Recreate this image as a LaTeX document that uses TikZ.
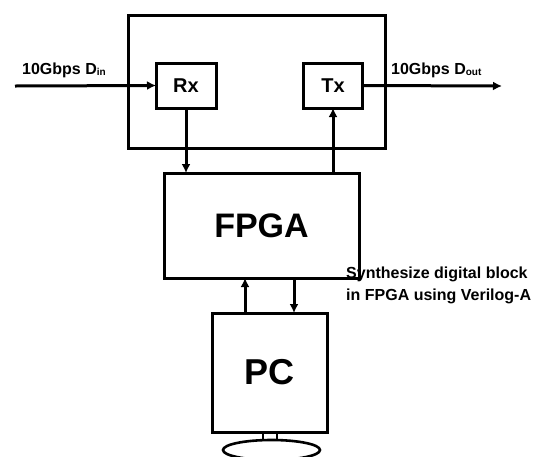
\documentclass[tikz,border=0pt]{standalone}
\usepackage{fontspec}
\setmainfont{Liberation Sans}
\usetikzlibrary{arrows.meta,positioning,shapes.geometric}

\begin{document}
\begin{tikzpicture}[
  x=1pt, y=-1pt,
  blk/.style={draw, line width=3pt, inner sep=0pt, outer sep=0pt,
              font=\bfseries},
  lbl/.style={inner sep=0pt, font=\bfseries\fontsize{16}{22}\selectfont,
              align=left},
  arr/.style={-{Latex[length=9pt,width=9pt]}, line width=3pt}
]
\useasboundingbox (0,0) rectangle (539,456);

%% Board with receiver and transmitter
\node[blk, minimum width=257pt, minimum height=133pt] (board) at (256.5,81.5) {};
\node[blk, minimum width=60pt, minimum height=45pt,
      font=\bfseries\fontsize{20}{24}\selectfont] (rx) at (186,85.5) {Rx};
\node[blk, minimum width=59pt, minimum height=45pt,
      font=\bfseries\fontsize{20}{24}\selectfont] (tx) at (333,85.5) {Tx};

%% Serial input and output
\coordinate (din)  at (15,86);
\coordinate (dout) at (502,86);
\draw[arr] (din) -- (rx.west);
\draw[arr] (tx.east) -- (dout);
\node[lbl, anchor=base west] (dinlbl)  at (22,74)  {10Gbps D\raisebox{-1pt}{\fontsize{10}{10}\selectfont in}};
\node[lbl, anchor=base west] (doutlbl) at (391,74) {10Gbps D\raisebox{-1pt}{\fontsize{10}{10}\selectfont out}};

%% FPGA
\node[blk, minimum width=195pt, minimum height=105pt,
      font=\bfseries\fontsize{34}{40}\selectfont] (fpga) at (261.5,225.5) {FPGA};
\draw[arr] (rx.south) -- (rx.south |- fpga.north);
\draw[arr] (tx.south |- fpga.north) -- (tx.south);

%% PC with stand
\node[blk, minimum width=115pt, minimum height=119pt,
      font=\bfseries\fontsize{36}{40}\selectfont] (pc) at (269.5,372.5) {PC};
\node[blk, line width=2.2pt, minimum width=14pt, minimum height=8pt] (stand) at (270,436) {};
\node[blk, ellipse, line width=2.6pt, minimum width=97pt, minimum height=20pt] (base) at (271.5,450) {};
\draw[arr] ([xshift=-24.5pt]pc.north) -- ([xshift=-24.5pt]pc.north |- fpga.south);
\draw[arr] ([xshift=24.5pt]pc.north |- fpga.south) -- ([xshift=24.5pt]pc.north);

%% Note
\node[lbl, anchor=base west] (note) at (346,300)
  {Synthesize digital block\\in FPGA using Verilog-A};
\end{tikzpicture}
\end{document}
